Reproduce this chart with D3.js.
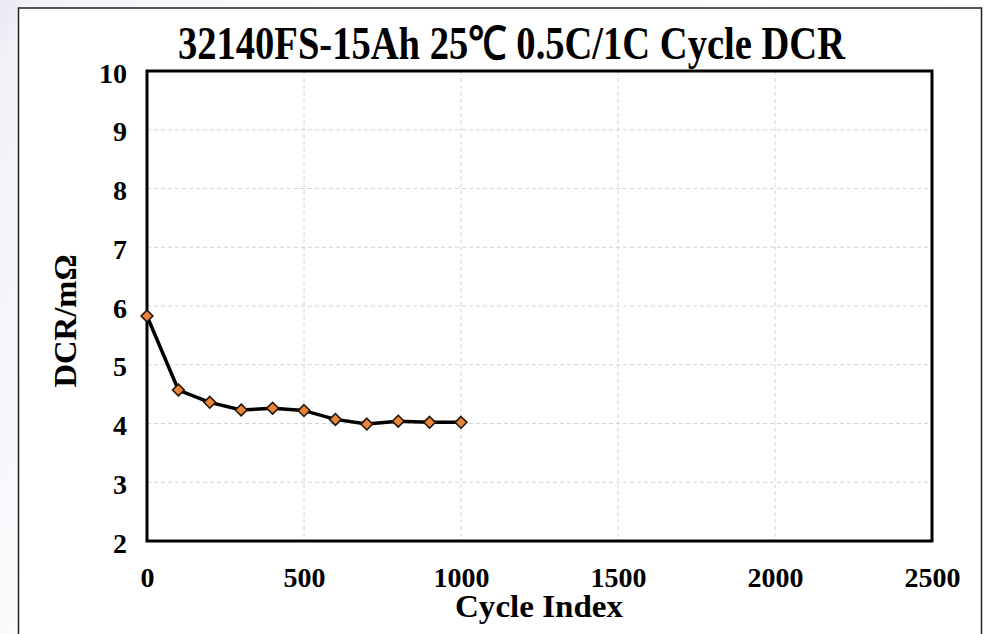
<!DOCTYPE html>
<html><head><meta charset="utf-8">
<script src="https://cdn.jsdelivr.net/npm/d3@7"></script>
<style>
html,body{margin:0;padding:0;background:#fff;}
svg{display:block;}
</style></head>
<body>
<svg id="c" width="985" height="634"></svg>
<script>
const cycles = [0, 100, 200, 300, 400, 500, 600, 700, 800, 900, 1000];
const dcr = [5.83, 4.57, 4.36, 4.23, 4.26, 4.22, 4.07, 3.99, 4.04, 4.02, 4.02];
const xTicks = [0, 500, 1000, 1500, 2000, 2500];
const yTicks = [2, 3, 4, 5, 6, 7, 8, 9, 10];
const titleText = "32140FS-15Ah 25\u2103 0.5C/1C Cycle DCR";
const xTitle = "Cycle Index";
const yTitle = "DCR/m\u03A9";

const svg = d3.select("#c");
const W = 985, H = 634;
const m = {l: 147, r: 932, t: 71, b: 541};
const font = "'Liberation Serif','Times New Roman',serif";

// background
const defs = svg.append("defs");
const g = defs.append("linearGradient").attr("id","bg").attr("x1","0").attr("x2","1").attr("y1","0").attr("y2","0.3");
g.append("stop").attr("offset","0").attr("stop-color","#e9e8f3");
g.append("stop").attr("offset","0.03").attr("stop-color","#f2f1f8");
g.append("stop").attr("offset","0.3").attr("stop-color","#fbfbfd");
g.append("stop").attr("offset","1").attr("stop-color","#ffffff");
svg.append("rect").attr("width",W).attr("height",H).attr("fill","url(#bg)");

// chart frame
svg.append("rect").attr("x",18.5).attr("y",8).attr("width",963).attr("height",640)
  .attr("fill","#fff").attr("stroke","#222").attr("stroke-width",1.5);

const x = d3.scaleLinear().domain([0, 2500]).range([m.l, m.r]);
const y = d3.scaleLinear().domain([2, 10]).range([m.b, m.t]);

// grid
const grid = svg.append("g").attr("stroke","#d4d4d4").attr("stroke-width",1).attr("stroke-dasharray","4,3");
grid.selectAll("line.v").data(xTicks.filter(d => d > 0 && d < 2500)).join("line")
  .attr("x1", d => x(d)).attr("x2", d => x(d)).attr("y1", m.t).attr("y2", m.b);
grid.selectAll("line.h").data(yTicks.filter(d => d > 2 && d < 10)).join("line")
  .attr("class","h").attr("y1", d => y(d)).attr("y2", d => y(d)).attr("x1", m.l).attr("x2", m.r);

// axes (labels only)
const xAxis = d3.axisBottom(x).tickValues(xTicks).tickSize(0).tickPadding(0).tickFormat(d3.format("d"));
const gx = svg.append("g").attr("transform", `translate(0,${m.b})`).call(xAxis);
gx.select(".domain").remove();
gx.selectAll("text").attr("dy", null).attr("y", 46)
  .attr("font-family", font).attr("font-weight","bold").attr("font-size", 28).attr("fill","#000");

const yAxis = d3.axisLeft(y).tickValues(yTicks).tickSize(0).tickPadding(0).tickFormat(d3.format("d"));
const gy = svg.append("g").attr("transform", `translate(${m.l},0)`).call(yAxis);
gy.select(".domain").remove();
gy.selectAll("text").attr("x", -20).attr("dy", "0.4em")
  .attr("font-family", font).attr("font-weight","bold").attr("font-size", 28).attr("fill","#000");

// plot border
svg.append("rect").attr("x", m.l).attr("y", m.t).attr("width", m.r - m.l).attr("height", m.b - m.t)
  .attr("fill","none").attr("stroke","#000").attr("stroke-width",3);

// data line
const pts = cycles.map((c, i) => [c, dcr[i]]);
svg.append("path").datum(pts)
  .attr("d", d3.line().x(d => x(d[0])).y(d => y(d[1])))
  .attr("fill","none").attr("stroke","#000").attr("stroke-width",3.5).attr("stroke-linejoin","round");

// markers
const sym = d3.symbol().type(d3.symbolDiamond2).size(88);
svg.selectAll("path.mk").data(pts).join("path").attr("class","mk")
  .attr("transform", d => `translate(${x(d[0])},${y(d[1])})`)
  .attr("d", sym).attr("fill","#e8843c").attr("stroke","#241808").attr("stroke-width",1.6);

// titles
svg.append("text").attr("x", 511.5).attr("y", 59).attr("text-anchor","middle")
  .attr("font-family", font).attr("font-weight","bold").attr("font-size", 46)
  .attr("textLength", 667).attr("lengthAdjust","spacingAndGlyphs").text(titleText);

svg.append("text").attr("x", 539).attr("y", 617).attr("text-anchor","middle")
  .attr("font-family", font).attr("font-weight","bold").attr("font-size", 32)
  .attr("textLength", 168).attr("lengthAdjust","spacingAndGlyphs").text(xTitle);

svg.append("text").attr("transform","translate(76,321) rotate(-90)").attr("text-anchor","middle")
  .attr("font-family", font).attr("font-weight","bold").attr("font-size", 31)
  .attr("textLength", 133).attr("lengthAdjust","spacingAndGlyphs").text(yTitle);
</script>
</body></html>
